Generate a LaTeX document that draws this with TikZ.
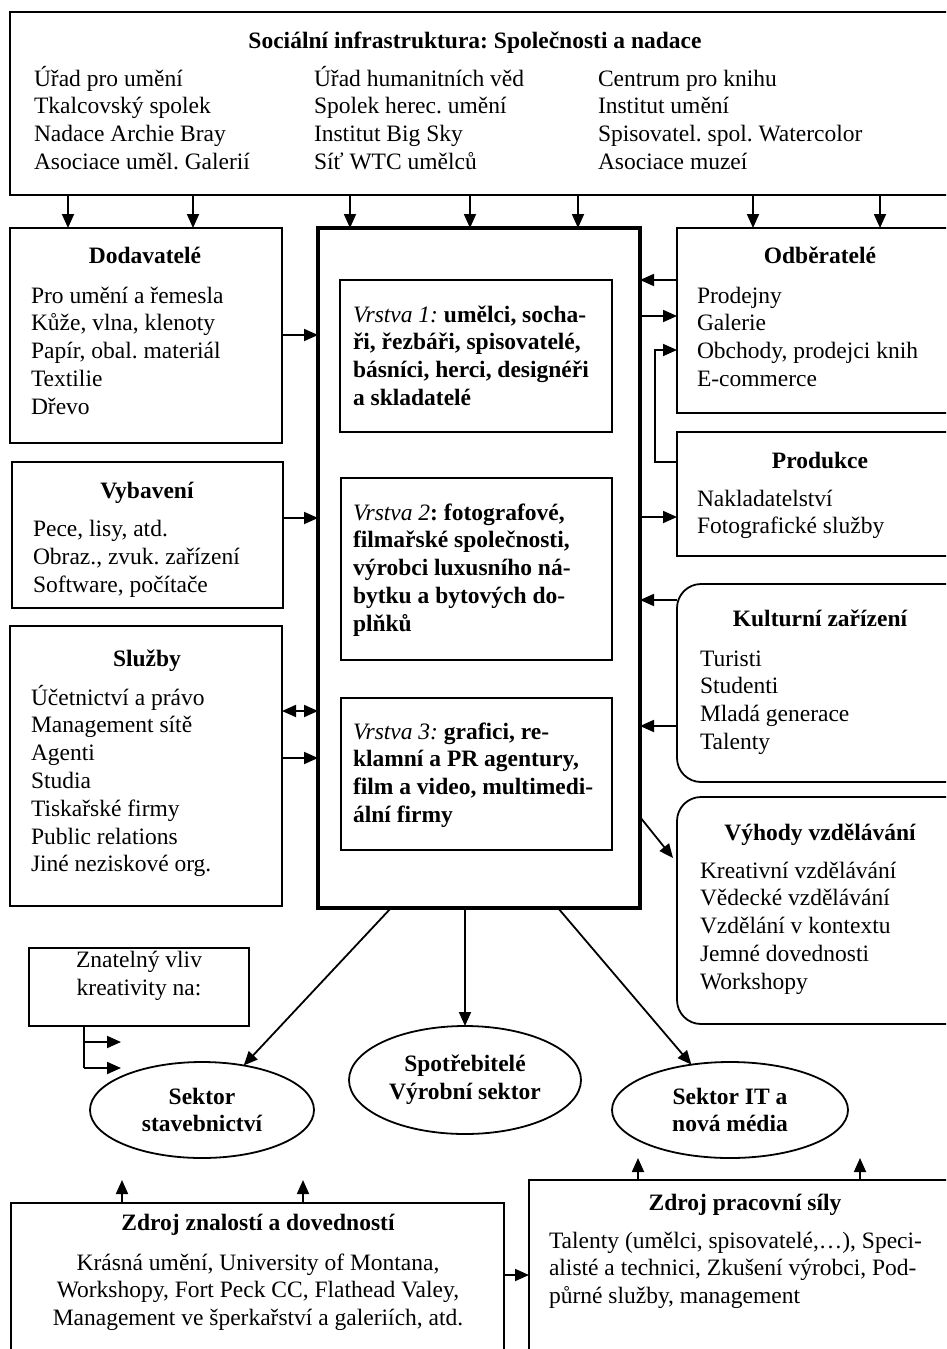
\documentclass[tikz,border=0pt]{standalone}
\usepackage{fontspec}
\setmainfont{Liberation Serif}
\usetikzlibrary{arrows.meta,shapes.geometric}
\frenchspacing

\begin{document}
\begin{tikzpicture}[x=1pt,y=-1pt,
  every node/.style={inner sep=0pt, outer sep=0pt},
  % multi-line texts are placed by the baseline of their last line
  txt/.style={font=\fontsize{23.5}{27.8}\selectfont, align=left, anchor=base west},
  ctxt/.style={font=\fontsize{23.5}{27.8}\selectfont, align=center, anchor=base},
  ttl/.style={font=\fontsize{23.5}{27.8}\selectfont\bfseries, anchor=base},
  box/.style={draw, line width=1.8pt, anchor=north west},
  rbox/.style={draw, line width=1.8pt, anchor=north west, rounded corners=24pt},
  mainbox/.style={draw, line width=4pt, anchor=north west},
  ell/.style={draw, ellipse, line width=1.8pt, font=\fontsize{23.5}{27.8}\selectfont\bfseries, align=center},
  arr/.style={line width=1.8pt, -{Triangle[length=14pt,width=12pt]}},
  darr/.style={line width=1.8pt, {Triangle[length=14pt,width=12pt]}-{Triangle[length=14pt,width=12pt]}},
  ln/.style={line width=1.8pt}
]
\useasboundingbox (0,0) rectangle (946,1349);
\clip (0,0) rectangle (946,1349);

% ---------- frames ----------
\node[box, minimum width=970pt, minimum height=183pt] (top) at (10,12) {};
\node[box, minimum width=272pt, minimum height=215pt] (sup) at (10,228) {};
\node[box, minimum width=271pt, minimum height=146pt] (equ) at (12,462) {};
\node[box, minimum width=272pt, minimum height=280pt] (srv) at (10,626) {};
\node[mainbox, minimum width=322pt, minimum height=680pt] (main) at (318,228) {};
\node[box, minimum width=272pt, minimum height=152pt] (v1) at (340,280) {};
\node[box, minimum width=271pt, minimum height=182pt] (v2) at (341,478) {};
\node[box, minimum width=271pt, minimum height=152pt] (v3) at (341,698) {};
\node[box, minimum width=300pt, minimum height=185pt] (odb) at (677,228) {};
\node[box, minimum width=300pt, minimum height=124pt] (prod) at (677,432) {};
\node[rbox, minimum width=300pt, minimum height=198pt] (kult) at (677,584) {};
\node[rbox, minimum width=300pt, minimum height=227pt] (vyh) at (677,797) {};
\node[box, minimum width=220pt, minimum height=78pt] (zn) at (29,948) {};
\node[box, minimum width=493pt, minimum height=220pt] (zk) at (11,1203) {};
\node[box, minimum width=450pt, minimum height=240pt] (zp) at (529,1180) {};

% ---------- sector ellipses ----------
\node[ell, minimum width=224pt, minimum height=96pt] (sl) at (202,1110) {Sektor\\stavebnictví};
\node[ell, minimum width=232pt, minimum height=108pt] (sc) at (465,1080) {Spotřebitelé\\Výrobní sektor};
\node[ell, minimum width=236pt, minimum height=96pt] (sr) at (730,1110) {Sektor IT a\\nová média};

% ---------- texts ----------
\node[ttl] (topT) at (475,48) {Sociální infrastruktura: Společnosti a nadace};
\node[txt] (topA) at (34,169.4) {Úřad pro umění\\Tkalcovský spolek\\Nadace Archie Bray\\Asociace uměl. Galerií};
\node[txt] (topB) at (314,169.4) {Úřad humanitních věd\\Spolek herec. umění\\Institut Big Sky\\Síť WTC umělců};
\node[txt] (topC) at (598,169.4) {Centrum pro knihu\\Institut umění\\Spisovatel. spol. Watercolor\\Asociace muzeí};

\node[ttl] (supT) at (145,263) {Dodavatelé};
\node[txt] (supL) at (31,414.2) {Pro umění a řemesla\\Kůže, vlna, klenoty\\Papír, obal. materiál\\Textilie\\Dřevo};

\node[ttl] (equT) at (147,498) {Vybavení};
\node[txt] (equL) at (33,592) {Pece, lisy, atd.\\Obraz., zvuk. zařízení\\Software, počítače};

\node[ttl] (srvT) at (147,666) {Služby};
\node[txt] (srvL) at (31,871.8) {Účetnictví a právo\\Management sítě\\Agenti\\Studia\\Tiskařské firmy\\Public relations\\Jiné neziskové org.};

\node[txt] (v1L) at (353,405.4) {\textit{Vrstva 1:} \textbf{umělci, socha-}\\\textbf{ři, řezbáři, spisovatelé,}\\\textbf{básníci, herci, designéři}\\\textbf{a skladatelé}};
\node[txt] (v2L) at (353,631.2) {\textit{Vrstva 2}\textbf{: fotografové,}\\\textbf{filmařské společnosti,}\\\textbf{výrobci luxusního ná-}\\\textbf{bytku a bytových do-}\\\textbf{plňků}};
\node[txt] (v3L) at (353,822.4) {\textit{Vrstva 3:} \textbf{grafici, re-}\\\textbf{klamní a PR agentury,}\\\textbf{film a video, multimedi-}\\\textbf{ální firmy}};

\node[ttl] (odbT) at (820,263) {Odběratelé};
\node[txt] (odbL) at (697,386.4) {Prodejny\\Galerie\\Obchody, prodejci knih\\E-commerce};

\node[ttl] (prodT) at (820,468) {Produkce};
\node[txt] (prodL) at (697,533.8) {Nakladatelství\\Fotografické služby};

\node[ttl] (kultT) at (820,626) {Kulturní zařízení};
\node[txt] (kultL) at (700,749.4) {Turisti\\Studenti\\Mladá generace\\Talenty};

\node[ttl] (vyhT) at (820,840) {Výhody vzdělávání};
\node[txt] (vyhL) at (700,989.2) {Kreativní vzdělávání\\Vědecké vzdělávání\\Vzdělání v kontextu\\Jemné dovednosti\\Workshopy};

\node[ctxt] (znL) at (139,995) {Znatelný vliv\\kreativity na:};

\node[ttl] (zkT) at (258,1230) {Zdroj znalostí a dovedností};
\node[ctxt] (zkL) at (258,1325.6) {Krásná umění, University of Montana,\\Workshopy, Fort Peck CC, Flathead Valey,\\Management ve šperkařství a galeriích, atd.};

\node[ttl] (zpT) at (745,1210) {Zdroj pracovní síly};
\node[txt] (zpL) at (549,1303.6) {Talenty (umělci, spisovatelé,…), Speci-\\alisté a technici, Zkušení výrobci, Pod-\\půrné služby, management};

% ---------- connectors ----------
\foreach \x in {68,193} \draw[arr] (top.south -| \x,0) -- (sup.north -| \x,0);
\foreach \x in {350,470,578} \draw[arr] (top.south -| \x,0) -- (main.north -| \x,0);
\foreach \x in {753,880} \draw[arr] (top.south -| \x,0) -- (odb.north -| \x,0);

\draw[arr] (sup.east |- 0,335) -- (main.west |- 0,335);
\draw[arr] (equ.east |- 0,518) -- (main.west |- 0,518);
\draw[darr] (srv.east |- 0,711) -- (main.west |- 0,711);
\draw[arr] (srv.east |- 0,758) -- (main.west |- 0,758);

\draw[arr] (odb.west |- 0,280) -- (main.east |- 0,280);
\draw[arr] (main.east |- 0,316) -- (odb.west |- 0,316);
\coordinate (pbA) at (655,462);
\coordinate (pbB) at (655,350);
\draw[arr] (prod.west |- pbA) -- (pbA) -- (pbB) -- (odb.west |- pbB);
\draw[arr] (main.east |- 0,517) -- (prod.west |- 0,517);
\draw[arr] (kult.west |- 0,600) -- (main.east |- 0,600);
\draw[arr] (kult.west |- 0,726) -- (main.east |- 0,726);
\draw[arr] (main.east |- 0,817) -- (673,858);

\draw[arr] (main.south -| 391,0) -- (sl);
\draw[arr] (main.south -| sc.north) -- (sc.north);
\draw[arr] (main.south -| 558,0) -- (sr);

\coordinate (znA) at (84,1042);
\coordinate (znB) at (84,1068);
\draw[ln] (zn.south -| znB) -- (znB);
\draw[arr] (znA) -- +(37,0);
\draw[arr] (znB) -- +(37,0);

\draw[arr] (zk.north -| 122,0) -- (122,1180);
\draw[arr] (zk.north -| 303,0) -- (303,1180);
\draw[arr] (zp.north -| 638,0) -- (638,1158);
\draw[arr] (zp.north -| 860,0) -- (860,1158);
\draw[arr] (zk.east |- 0,1275) -- (zp.west |- 0,1275);
\end{tikzpicture}
\end{document}
